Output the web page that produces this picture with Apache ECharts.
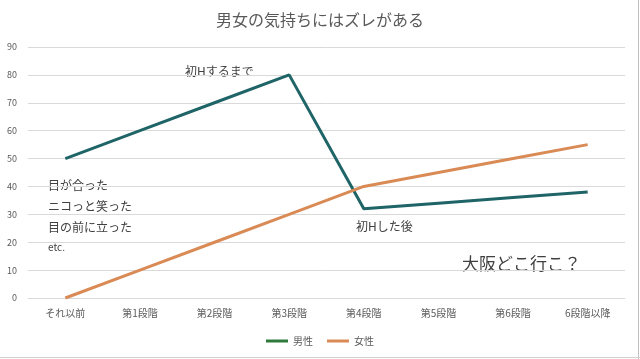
<!DOCTYPE html>
<html><head><meta charset="utf-8">
<script src="https://cdn.jsdelivr.net/npm/echarts@6/dist/echarts.min.js"></script>
<style>html,body{margin:0;padding:0;background:#fff}#c{width:640px;height:359px}</style>
</head><body><div id="c"></div>
<script>
const categories = ['それ以前','第1段階','第2段階','第3段階','第4段階','第5段階','第6段階','6段階以降'];
const maleValues = [50, 60, 70, 80, 32, 34, 36, 38];
const femaleValues = [0, 10, 20, 30, 40, 45, 50, 55];
const yTicks = [0, 10, 20, 30, 40, 50, 60, 70, 80, 90];
const seriesNames = ['男性', '女性'];
const titleText = '男女の気持ちにはズレがある';

const FONT = '"Noto Sans CJK JP", "Noto Sans", sans-serif';
const chart = echarts.init(document.getElementById('c'));
chart.setOption({
  animation: false,
  title: {text: titleText, left: 'center', top: 7,
    textStyle: {fontFamily: FONT, fontSize: 16, fontWeight: 'normal', color: '#595959'}},
  grid: {left: 28, right: 15, top: 47, bottom: 61, containLabel: false},
  legend: {
    bottom: 8, left: 'center', itemWidth: 22, itemHeight: 3, itemGap: 14,
    textStyle: {fontFamily: FONT, fontSize: 10, color: '#595959'},
    data: [
      {name: seriesNames[0], icon: 'rect', itemStyle: {color: '#2d7a3a'}},
      {name: seriesNames[1], icon: 'rect', itemStyle: {color: '#d98a55'}}
    ]
  },
  xAxis: {type: 'category', data: categories, boundaryGap: true,
    axisLine: {lineStyle: {color: '#d9d9d9'}}, axisTick: {show: false},
    axisLabel: {fontFamily: FONT, fontSize: 10, color: '#595959', margin: 10}},
  yAxis: {type: 'value', min: yTicks[0], max: yTicks[yTicks.length-1], interval: 10,
    axisLine: {show: false}, axisTick: {show: false},
    splitLine: {lineStyle: {color: '#d9d9d9'}},
    axisLabel: {fontFamily: FONT, fontSize: 9, color: '#595959', margin: 11}},
  series: [
    {name: seriesNames[0], type: 'line', data: maleValues, symbol: 'none',
      lineStyle: {color: '#1f6467', width: 3}, itemStyle: {color: '#1f6467'}},
    {name: seriesNames[1], type: 'line', data: femaleValues, symbol: 'none',
      lineStyle: {color: '#d98a55', width: 3}, itemStyle: {color: '#d98a55'}}
  ],
  graphic: [
    {type: 'text', left: 185, top: 65, style: {text: '初Hするまで', font: '12px ' + FONT, fill: '#404040'}},
    {type: 'text', left: 48, top: 179, style: {text: '目が合った', font: '12px ' + FONT, fill: '#404040'}},
    {type: 'text', left: 48, top: 200, style: {text: 'ニコっと笑った', font: '12px ' + FONT, fill: '#404040'}},
    {type: 'text', left: 48, top: 221, style: {text: '目の前に立った', font: '12px ' + FONT, fill: '#404040'}},
    {type: 'text', left: 48, top: 242, style: {text: 'etc.', font: '10px ' + FONT, fill: '#404040'}},
    {type: 'text', left: 356, top: 220, style: {text: '初Hした後', font: '12px ' + FONT, fill: '#404040'}},
    {type: 'text', left: 462, top: 255, style: {text: '大阪どこ行こ？', font: '17px ' + FONT, fill: '#404040'}},
    {type: 'line', shape: {x1: 638.5, y1: 0, x2: 638.5, y2: 359}, style: {stroke: '#bfbfbf', lineWidth: 1}},
    {type: 'line', shape: {x1: 0, y1: 357.5, x2: 640, y2: 357.5}, style: {stroke: '#d0d0d0', lineWidth: 1}}
  ]
});
</script></body></html>
